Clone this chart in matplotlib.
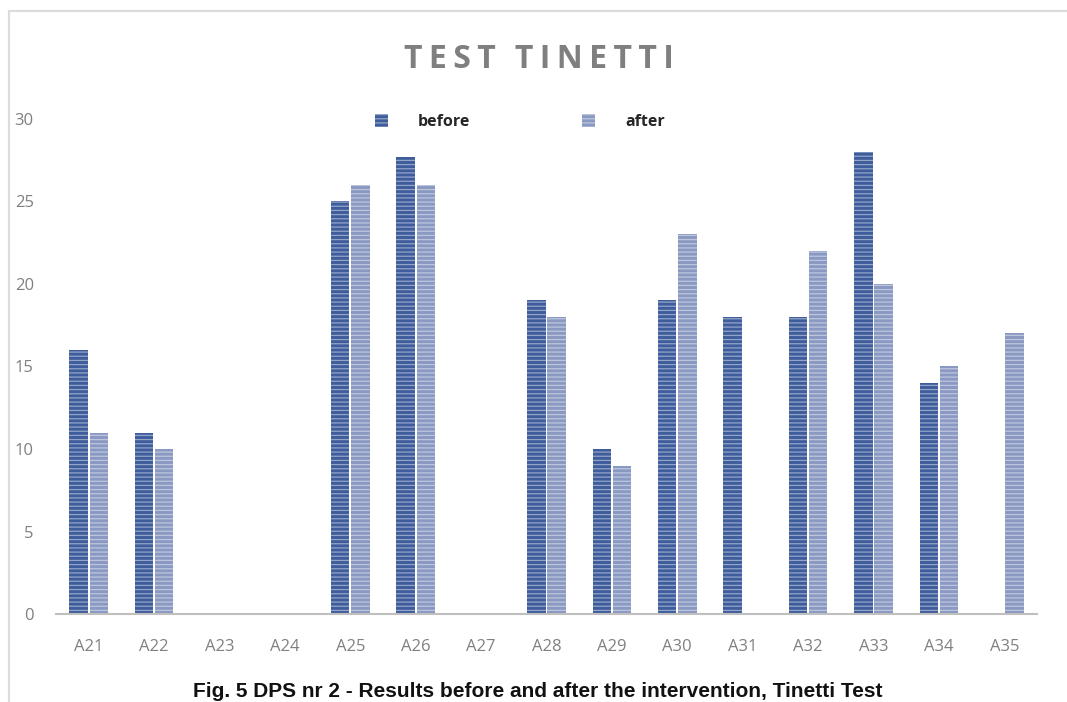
import matplotlib
matplotlib.use('Agg')
import matplotlib.pyplot as plt
from matplotlib.patches import Patch, Rectangle
import numpy as np

OUTPUT_FILE = 'out.png'

categories = ['A21', 'A22', 'A23', 'A24', 'A25', 'A26', 'A27', 'A28',
              'A29', 'A30', 'A31', 'A32', 'A33', 'A34', 'A35']
before = [16, 11, 0, 0, 25, 27.7, 0, 19, 10, 19, 18, 18, 28, 14, 0]
after = [11, 10, 0, 0, 26, 26, 0, 18, 9, 23, 0, 22, 20, 15, 17]
y_ticks = [0, 5, 10, 15, 20, 25, 30]

COLOR_BEFORE = '#3f5d9c'
COLOR_AFTER = '#8a99c2'

plt.rcParams['hatch.color'] = '#ffffff70'
plt.rcParams['hatch.linewidth'] = 0.9


def generate_graph():
    fig = plt.figure(figsize=(10.67, 7.02), dpi=100)
    ax = fig.add_axes([56 / 1067, 1 - 614 / 702, (1037 - 56) / 1067, (614 - 119) / 702])

    x = np.arange(len(categories))
    w = 0.28
    ax.bar(x - 0.155, before, width=w, color=COLOR_BEFORE, linewidth=0, hatch='----')
    ax.bar(x + 0.155, after, width=w, color=COLOR_AFTER, linewidth=0, hatch='----')

    ax.set_xlim(-0.5, len(categories) - 0.5)
    ax.set_ylim(0, 30)
    ax.set_xticks(x)
    ax.set_xticklabels(categories, family='Open Sans', fontsize=12, color='#808080')
    ax.set_yticks(y_ticks)
    ax.set_yticklabels([str(v) for v in y_ticks], family='Open Sans', fontsize=12,
                       color='#808080')
    ax.tick_params(axis='x', length=0, pad=18)
    ax.tick_params(axis='y', length=0, pad=16)

    for side in ['top', 'right', 'left']:
        ax.spines[side].set_visible(False)
    ax.spines['bottom'].set_color('#bfbfbf')
    ax.spines['bottom'].set_linewidth(1.5)

    # legend
    handles = [Patch(facecolor=COLOR_BEFORE, hatch='----', linewidth=0),
               Patch(facecolor=COLOR_AFTER, hatch='----', linewidth=0)]
    leg = fig.legend(handles, ['before', 'after'], loc='center left',
                     bbox_to_anchor=(375 / 1067, 1 - 122 / 702), ncol=2, frameon=False,
                     handlelength=0.8, handleheight=0.8, handletextpad=1.9,
                     columnspacing=7.0, borderpad=0, borderaxespad=0,
                     prop={'family': 'Open Sans', 'weight': 'bold', 'size': 11.5})
    for t in leg.get_texts():
        t.set_color('#262626')

    # title (thin spaces between letters for the wide tracking)
    title = '\u2009'.join('TEST') + '\u2009\u2009\u2009' + '\u2009'.join('TINETTI')
    fig.text(539 / 1067, 1 - 59 / 702, title, ha='center', va='center',
             family=['Open Sans', 'DejaVu Sans'], weight='bold', fontsize=23,
             color='#7f7f7f')

    # caption
    fig.text(538 / 1067, 1 - 697 / 702,
             'Fig. 5 DPS nr 2 - Results before and after the intervention, Tinetti Test',
             ha='center', va='baseline', family='Liberation Sans', weight='bold',
             fontsize=15, color='#111111')

    # light frame around the chart
    fig.add_artist(Rectangle((9 / 1067, -0.1), 1.2, 1 - 11 / 702 + 0.1,
                             transform=fig.transFigure, fill=False,
                             edgecolor='#dcdcdc', linewidth=1.6))

    fig.savefig(OUTPUT_FILE, dpi=100)


if __name__ == "__main__":
    generate_graph()
